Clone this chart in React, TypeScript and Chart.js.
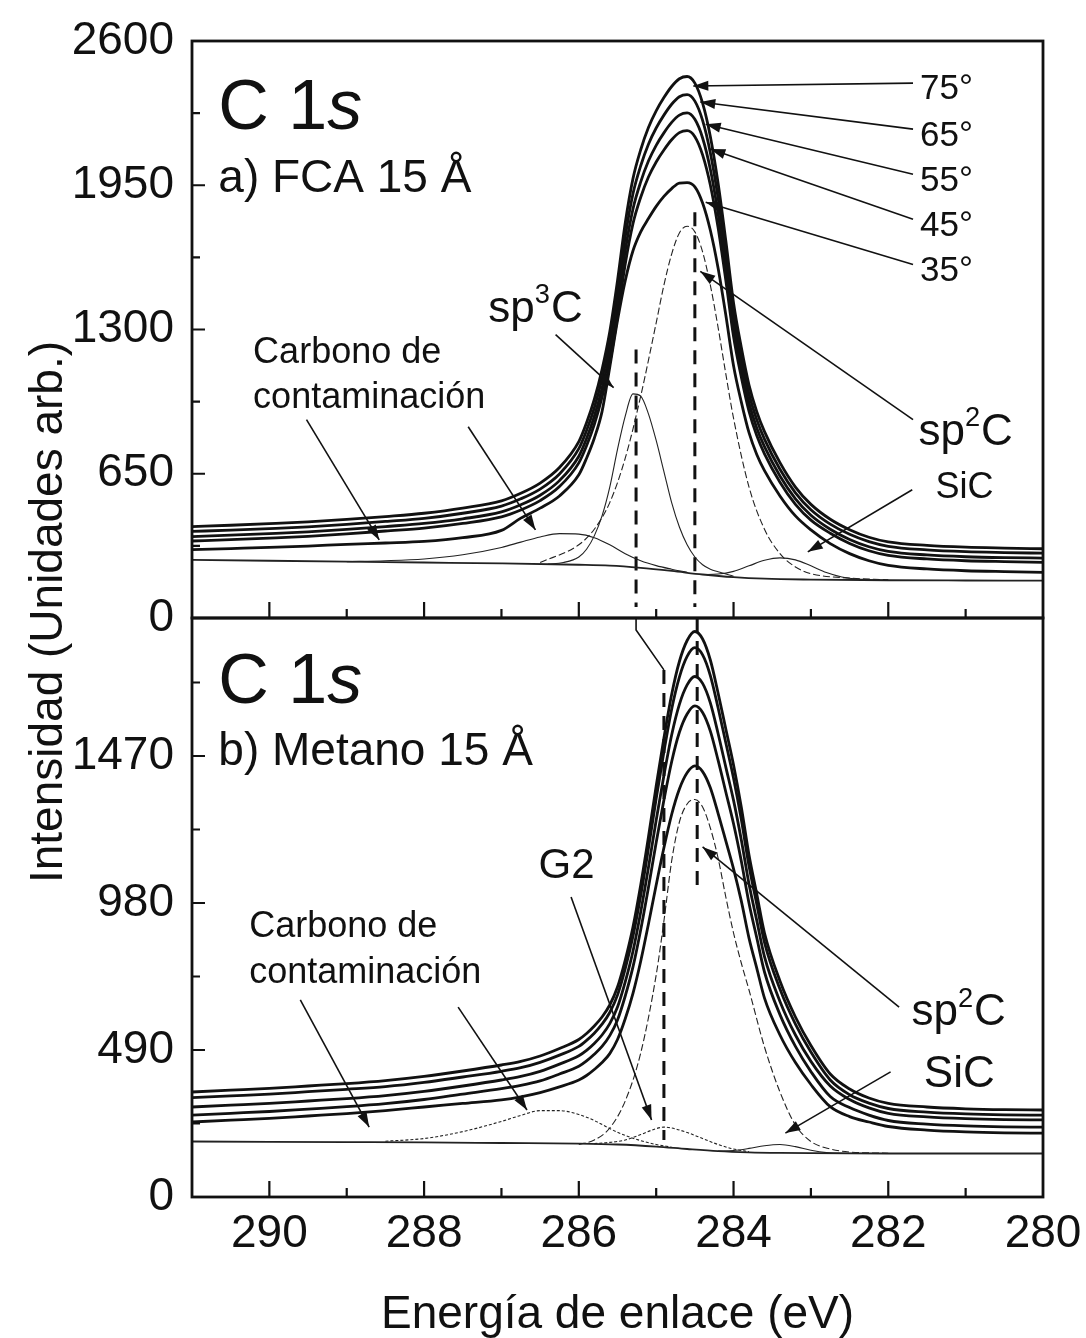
import React, { useEffect, useRef } from "react";
import { Chart, registerables } from "chart.js";

Chart.register(...registerables);

// ---------------- data ----------------
const E_GRID = [291, 290.5, 290, 289.5, 289, 288.5, 288, 287.5, 287, 286.75, 286.5, 286.25, 286, 285.9, 285.8, 285.7, 285.6, 285.5, 285.4, 285.3, 285.2, 285.1, 285, 284.9, 284.8, 284.7, 284.6, 284.5, 284.4, 284.3, 284.2, 284.1, 284, 283.9, 283.8, 283.7, 283.6, 283.4, 283.2, 283, 282.75, 282.5, 282.25, 282, 281.5, 281, 280.5, 280];

// panel a) FCA 15 Å : measured spectra at the five take-off angles
const A75 = [412, 418, 425, 433, 444, 457, 472, 495, 528, 562, 608, 678, 795, 880, 985, 1120, 1290, 1520, 1780, 1980, 2110, 2210, 2285, 2345, 2395, 2430, 2440, 2410, 2320, 2170, 1960, 1700, 1420, 1220, 1050, 930, 840, 700, 590, 512, 445, 398, 364, 343, 327, 319, 315, 312];
const A65 = [390, 396, 403, 411, 422, 435, 449, 472, 504, 537, 581, 649, 763, 845, 947, 1078, 1243, 1466, 1718, 1912, 2038, 2135, 2208, 2266, 2315, 2349, 2358, 2329, 2242, 2096, 1893, 1640, 1369, 1175, 1010, 894, 806, 670, 564, 488, 423, 377, 344, 323, 307, 299, 295, 292];
const A55 = [367, 373, 380, 388, 399, 412, 426, 447, 478, 510, 553, 619, 729, 809, 908, 1035, 1195, 1411, 1655, 1843, 1965, 2059, 2130, 2186, 2233, 2266, 2276, 2247, 2163, 2022, 1824, 1580, 1317, 1129, 969, 856, 772, 640, 537, 463, 400, 354, 321, 300, 284, 276, 272, 270];
const A45 = [347, 353, 360, 368, 379, 392, 405, 426, 456, 487, 529, 592, 699, 776, 872, 995, 1149, 1359, 1595, 1777, 1896, 1987, 2055, 2109, 2155, 2187, 2196, 2169, 2087, 1951, 1759, 1522, 1268, 1086, 931, 822, 740, 612, 512, 441, 382, 336, 303, 282, 266, 258, 254, 251];
const A35 = [308, 313, 318, 324, 332, 338, 345, 362, 395, 450, 495, 550, 645, 720, 810, 930, 1130, 1340, 1520, 1655, 1740, 1800, 1855, 1900, 1935, 1960, 1962, 1943, 1870, 1747, 1577, 1365, 1137, 974, 835, 737, 664, 550, 460, 397, 335, 290, 258, 237, 221, 213, 209, 206];

// panel a) fitted components
const BG_A_E = [291, 290, 289, 288, 287, 286, 285.6, 285.2, 284.8, 284.4, 284, 283.6, 283, 282, 281, 280];
const BG_A = [262, 258, 254, 250, 246, 240, 236, 226, 212, 196, 184, 177, 173, 170, 169, 168];
const CC_A_E = [289, 288.5, 288, 287.5, 287, 286.75, 286.5, 286.25, 286, 285.8, 285.6, 285.4, 285.2, 285, 284.8, 284.6];
const CC_A = [254, 258, 266, 285, 318, 342, 365, 380, 378, 362, 330, 290, 258, 236, 220, 206];
const SP3_A_E = [286.4, 286.2, 286, 285.9, 285.8, 285.7, 285.6, 285.5, 285.4, 285.3, 285.2, 285.1, 285, 284.9, 284.8, 284.7, 284.6, 284.5, 284.4, 284.3, 284.2, 284];
const SP3_A = [243, 250, 275, 310, 370, 460, 590, 760, 910, 1010, 1000, 920, 800, 660, 520, 410, 330, 275, 240, 220, 208, 188];
const SP2_A_E = [286.5, 286, 285.8, 285.6, 285.4, 285.2, 285, 284.9, 284.8, 284.7, 284.6, 284.5, 284.4, 284.3, 284.2, 284.1, 284, 283.8, 283.6, 283.4, 283.2, 283, 282.5, 282];
const SP2_A = [250, 330, 400, 520, 720, 1000, 1330, 1500, 1640, 1735, 1765, 1740, 1650, 1500, 1310, 1100, 900, 590, 400, 290, 230, 200, 180, 172];
const SIC_A_E = [284.4, 284.2, 284, 283.8, 283.6, 283.4, 283.2, 283, 282.8, 282.6, 282.4, 282];
const SIC_A = [196, 198, 210, 235, 260, 271, 262, 235, 205, 185, 175, 170];

// panel b) Metano 15 Å : measured spectra
const B1 = [350, 356, 362, 370, 378, 388, 402, 420, 440, 452, 470, 495, 525, 545, 570, 600, 640, 700, 790, 900, 1040, 1200, 1370, 1530, 1675, 1785, 1855, 1885, 1860, 1790, 1680, 1560, 1440, 1300, 1140, 1010, 880, 720, 600, 505, 410, 360, 330, 312, 300, 294, 291, 290];
const B2 = [331, 337, 343, 351, 359, 368, 382, 400, 419, 431, 449, 473, 502, 522, 546, 576, 615, 673, 761, 869, 1005, 1162, 1328, 1484, 1626, 1733, 1802, 1831, 1807, 1738, 1631, 1514, 1396, 1259, 1103, 976, 849, 693, 576, 483, 390, 341, 313, 295, 283, 277, 274, 273];
const B3 = [300, 306, 312, 320, 328, 338, 352, 370, 390, 402, 419, 443, 471, 489, 512, 540, 578, 633, 717, 819, 950, 1098, 1256, 1405, 1540, 1642, 1707, 1735, 1712, 1647, 1545, 1433, 1322, 1191, 1043, 922, 801, 652, 540, 452, 370, 325, 297, 279, 267, 261, 258, 257];
const B4 = [273, 279, 285, 293, 301, 311, 325, 343, 361, 372, 387, 410, 436, 454, 476, 502, 538, 590, 670, 767, 891, 1032, 1182, 1323, 1451, 1549, 1610, 1637, 1615, 1553, 1456, 1350, 1244, 1120, 979, 864, 750, 608, 502, 418, 335, 298, 273, 255, 243, 237, 234, 233];
const B5 = [250, 256, 262, 270, 278, 288, 300, 312, 324, 334, 348, 367, 390, 405, 425, 448, 478, 525, 594, 679, 786, 910, 1040, 1164, 1275, 1360, 1414, 1437, 1418, 1364, 1279, 1187, 1094, 987, 863, 763, 663, 540, 448, 375, 301, 268, 250, 235, 223, 217, 214, 213];

// panel b) fitted components
const BG_B_E = [291, 290, 289, 288, 287, 286, 285.5, 285, 284.6, 284.2, 283.8, 283.4, 283, 282, 280];
const BG_B = [185, 184, 183, 182, 180, 178, 175, 168, 160, 153, 149, 147, 146, 145, 145];
const CC_B_E = [288.5, 288, 287.5, 287, 286.75, 286.5, 286.25, 286, 285.8, 285.6, 285.4, 285.2, 285, 284.8];
const CC_B = [186, 195, 218, 252, 272, 288, 288, 275, 255, 228, 205, 188, 175, 166];
const G2_B_E = [285.8, 285.6, 285.4, 285.2, 285, 284.9, 284.8, 284.6, 284.4, 284.2, 284, 283.8];
const G2_B = [178, 182, 190, 208, 228, 233, 230, 215, 195, 175, 160, 151];
const SIC_B_E = [284.2, 284, 283.8, 283.6, 283.4, 283.2, 283, 282.8, 282.5];
const SIC_B = [153, 155, 162, 171, 175, 168, 156, 148, 145];
const SP2_B_E = [286, 285.8, 285.6, 285.4, 285.2, 285, 284.9, 284.8, 284.7, 284.6, 284.5, 284.4, 284.3, 284.2, 284.1, 284, 283.9, 283.8, 283.6, 283.4, 283.2, 283, 282.75, 282.5, 282];
const SP2_B = [175, 190, 230, 320, 480, 740, 920, 1120, 1250, 1310, 1325, 1300, 1230, 1130, 1000, 880, 780, 690, 500, 350, 240, 185, 160, 150, 146];

// peak position markers (binding energies) and their extents
const SP3_POS_A = 285.26;
const SP2_POS_A = 284.5;
const G2_POS_B = 284.9;
const SP2_POS_B = 284.47;
const DASH_A_SP3 = [1210, 50];
const DASH_A_SP2 = [1828, 50];
const LINK_B_V = [1930, 1890, 1757];
const DASH_B_G2 = [1757, 190];
const DASH_B_SP2 = [1930, 1013];

// axes
const X_MIN = 280;
const X_MAX = 291;
const X_TICKS = [290, 288, 286, 284, 282, 280];
const X_MINOR = [289, 287, 285, 283, 281];
const Y_MAX_A = 2600;
const Y_TICKS_A = [0, 650, 1300, 1950, 2600];
const Y_MINOR_A = [325, 975, 1625, 2275];
const Y_MAX_B = 1930;
const Y_TICKS_B = [0, 490, 980, 1470];
const Y_MINOR_B = [245, 735, 1225, 1715];

const ANGLES = ["75°", "65°", "55°", "45°", "35°"];
const ANGLE_LABEL_V = [2338, 2126, 1923, 1720, 1517];
const ANGLE_ARROW_FROM_V = [2410, 2203, 2000, 1797, 1593];
const ANGLE_ARROW_TO_E = [284.52, 284.43, 284.36, 284.3, 284.36];
const ANGLE_ARROW_TO_V = [2397, 2325, 2225, 2113, 1873];

const X_TITLE = "Energía de enlace (eV)";
const Y_TITLE = "Intensidad (Unidades arb.)";

// ---------------- helpers ----------------
const FONT = "'Liberation Sans', Arial, Helvetica, sans-serif";
const INK = "#111";

type Seg = { s: string; sup?: boolean; it?: boolean };
type Label = { segs: Seg[]; e: number; v: number; size: number };
type Arrow = { from: [number, number]; to: [number, number] };

const pts = (xs: number[], ys: number[]) => xs.map((x, i) => ({ x, y: ys[i] }));

const LABELS_A: Label[] = [
  { segs: [{ s: "C 1" }, { s: "s", it: true }], e: 290.66, v: 2203, size: 70 },
  { segs: [{ s: "a) FCA 15 Å" }], e: 290.66, v: 1918, size: 46 },
  { segs: [{ s: "sp" }, { s: "3", sup: true }, { s: "C" }], e: 287.17, v: 1336, size: 44 },
  { segs: [{ s: "Carbono de" }], e: 290.21, v: 1151, size: 36 },
  { segs: [{ s: "contaminación" }], e: 290.21, v: 948, size: 36 },
  { segs: [{ s: "sp" }, { s: "2", sup: true }, { s: "C" }], e: 281.61, v: 781, size: 44 },
  { segs: [{ s: "SiC" }], e: 281.39, v: 542, size: 36 },
  ...ANGLES.map((a, i) => ({ segs: [{ s: a }], e: 281.59, v: ANGLE_LABEL_V[i], size: 35 })),
];
const ARROWS_A: Arrow[] = [
  { from: [286.3, 1277], to: [285.55, 1038] },
  { from: [289.52, 894], to: [288.58, 352] },
  { from: [287.43, 862], to: [286.56, 397] },
  { from: [281.68, 894], to: [284.43, 1562] },
  { from: [281.69, 578], to: [283.04, 298] },
  ...ANGLES.map((_, i) => ({ from: [281.68, ANGLE_ARROW_FROM_V[i]] as [number, number], to: [ANGLE_ARROW_TO_E[i], ANGLE_ARROW_TO_V[i]] as [number, number] })),
];
const LABELS_B: Label[] = [
  { segs: [{ s: "C 1" }, { s: "s", it: true }], e: 290.66, v: 1647, size: 70 },
  { segs: [{ s: "b) Metano 15 Å" }], e: 290.66, v: 1440, size: 46 },
  { segs: [{ s: "G2" }], e: 286.52, v: 1063, size: 42 },
  { segs: [{ s: "Carbono de" }], e: 290.26, v: 867, size: 36 },
  { segs: [{ s: "contaminación" }], e: 290.26, v: 713, size: 36 },
  { segs: [{ s: "sp" }, { s: "2", sup: true }, { s: "C" }], e: 281.7, v: 573, size: 44 },
  { segs: [{ s: "SiC" }], e: 281.54, v: 367, size: 44 },
];
const ARROWS_B: Arrow[] = [
  { from: [286.1, 1000], to: [285.06, 257] },
  { from: [289.6, 657], to: [288.71, 233] },
  { from: [287.56, 633], to: [286.67, 290] },
  { from: [281.86, 633], to: [284.4, 1167] },
  { from: [281.97, 417], to: [283.33, 213] },
];

function drawText(ctx: CanvasRenderingContext2D, segs: Seg[], x: number, y: number, size: number) {
  let cx = x;
  for (const sg of segs) {
    const sz = sg.sup ? size * 0.62 : size;
    ctx.font = `${sg.it ? "italic " : ""}${sz}px ${FONT}`;
    const dy = sg.sup ? -size * 0.42 : 0;
    ctx.fillText(sg.s, cx, y + dy);
    cx += ctx.measureText(sg.s).width + (sg.sup ? 1 : 0);
  }
}

function drawArrow(ctx: CanvasRenderingContext2D, x1: number, y1: number, x2: number, y2: number) {
  ctx.beginPath();
  ctx.moveTo(x1, y1);
  ctx.lineTo(x2, y2);
  ctx.stroke();
  const ang = Math.atan2(y2 - y1, x2 - x1);
  const L = 15, W = 5;
  const c = Math.cos(ang), s = Math.sin(ang);
  ctx.beginPath();
  ctx.moveTo(x2, y2);
  ctx.lineTo(x2 - L * c + W * s, y2 - L * s - W * c);
  ctx.lineTo(x2 - L * c - W * s, y2 - L * s + W * c);
  ctx.closePath();
  ctx.fill();
}

const decoPlugin = {
  id: "deco",
  afterDatasetsDraw(chart: any, _args: any, opts: any) {
    const { ctx, chartArea: ca } = chart;
    const xs = chart.scales.x, ys = chart.scales.y;
    ctx.save();
    ctx.strokeStyle = INK;
    ctx.fillStyle = INK;
    // frame
    ctx.lineWidth = 2.8;
    ctx.strokeRect(ca.left, ca.top, ca.right - ca.left, ca.bottom - ca.top);
    // inward tick marks
    ctx.lineWidth = 2.2;
    ctx.beginPath();
    const inX = (x: number) => x > ca.left + 3 && x < ca.right - 3;
    const inY = (y: number) => y > ca.top + 3 && y < ca.bottom - 3;
    for (const v of X_TICKS) { const x = xs.getPixelForValue(v); if (inX(x)) { ctx.moveTo(x, ca.bottom); ctx.lineTo(x, ca.bottom - 16); } }
    for (const v of X_MINOR) { const x = xs.getPixelForValue(v); if (inX(x)) { ctx.moveTo(x, ca.bottom); ctx.lineTo(x, ca.bottom - 9); } }
    for (const v of opts.yTicks) { const y = ys.getPixelForValue(v); if (inY(y)) { ctx.moveTo(ca.left, y); ctx.lineTo(ca.left + 13, y); } }
    for (const v of opts.yMinor) { const y = ys.getPixelForValue(v); if (inY(y)) { ctx.moveTo(ca.left, y); ctx.lineTo(ca.left + 8, y); } }
    ctx.stroke();
    // annotations
    ctx.textAlign = "left";
    ctx.textBaseline = "alphabetic";
    for (const lb of opts.labels as Label[]) {
      drawText(ctx, lb.segs, xs.getPixelForValue(lb.e), ys.getPixelForValue(lb.v), lb.size);
    }
    ctx.lineWidth = 1.6;
    for (const a of opts.arrows as Arrow[]) {
      drawArrow(ctx, xs.getPixelForValue(a.from[0]), ys.getPixelForValue(a.from[1]), xs.getPixelForValue(a.to[0]), ys.getPixelForValue(a.to[1]));
    }
    // shared axis titles
    if (opts.titles) {
      ctx.font = `46px ${FONT}`;
      ctx.textAlign = "center";
      ctx.fillText(X_TITLE, (ca.left + ca.right) / 2, 1328);
      ctx.save();
      ctx.translate(62, 612);
      ctx.rotate(-Math.PI / 2);
      ctx.fillText(Y_TITLE, 0, 0);
      ctx.restore();
    }
    ctx.restore();
  },
};

const spectrum = (ys: number[]) => ({
  data: pts(E_GRID, ys),
  borderColor: INK,
  borderWidth: 2.8,
  pointRadius: 0,
  cubicInterpolationMode: "monotone" as const,
  fill: false,
});
const component = (xs: number[], ys: number[], width = 1.1, dash: number[] = []) => ({
  data: pts(xs, ys),
  borderColor: "#222",
  borderWidth: width,
  borderDash: dash,
  pointRadius: 0,
  cubicInterpolationMode: "monotone" as const,
  fill: false,
});
const straight = (xs: number[], ys: number[], width: number, dash: number[]) => ({
  data: pts(xs, ys),
  borderColor: INK,
  borderWidth: width,
  borderDash: dash,
  pointRadius: 0,
  tension: 0,
  fill: false,
});

function makeConfig(panel: "a" | "b"): any {
  const isA = panel === "a";
  const yTicks = isA ? Y_TICKS_A : Y_TICKS_B;
  const datasets = isA
    ? [
        component(BG_A_E, BG_A, 1.8),
        component(CC_A_E, CC_A, 1.1),
        component(SP3_A_E, SP3_A, 1.1),
        component(SP2_A_E, SP2_A, 1.1, [7, 3]),
        component(SIC_A_E, SIC_A, 1.1),
        straight([SP3_POS_A, SP3_POS_A], DASH_A_SP3, 3, [14, 9]),
        straight([SP2_POS_A, SP2_POS_A], DASH_A_SP2, 3, [14, 9]),
        spectrum(A35),
        spectrum(A45),
        spectrum(A55),
        spectrum(A65),
        spectrum(A75),
      ]
    : [
        component(BG_B_E, BG_B, 1.8),
        component(CC_B_E, CC_B, 1.1, [3, 2]),
        component(G2_B_E, G2_B, 1.1, [3, 2]),
        component(SIC_B_E, SIC_B, 1.1),
        component(SP2_B_E, SP2_B, 1.1, [7, 3]),
        straight([SP3_POS_A, SP3_POS_A, G2_POS_B], LINK_B_V, 1.6, []),
        straight([G2_POS_B, G2_POS_B], DASH_B_G2, 3, [14, 9]),
        straight([SP2_POS_B, SP2_POS_B], DASH_B_SP2, 3, [14, 9]),
        spectrum(B5),
        spectrum(B4),
        spectrum(B3),
        spectrum(B2),
        spectrum(B1),
      ];
  return {
    type: "line",
    data: { datasets },
    plugins: [decoPlugin],
    options: {
      animation: false,
      responsive: false,
      maintainAspectRatio: false,
      events: [],
      layout: { padding: isA ? { top: 41, right: 43, left: 0, bottom: 710 } : { top: 618, right: 43, left: 0, bottom: 0 } },
      plugins: {
        legend: { display: false },
        tooltip: { enabled: false },
        deco: {
          yTicks,
          yMinor: isA ? Y_MINOR_A : Y_MINOR_B,
          labels: isA ? LABELS_A : LABELS_B,
          arrows: isA ? ARROWS_A : ARROWS_B,
          titles: !isA,
        },
      },
      scales: {
        x: {
          type: "linear",
          min: X_MIN,
          max: X_MAX,
          reverse: true,
          grid: { display: false, drawTicks: false },
          border: { display: false },
          ticks: {
            display: !isA,
            font: { family: FONT, size: 46 },
            color: INK,
            padding: 10,
            maxRotation: 0,
            autoSkip: false,
            callback: (v: any) => String(v),
          },
          afterBuildTicks: (s: any) => { s.ticks = X_TICKS.map((v) => ({ value: v })); },
          afterFit: (s: any) => {
            s.height = isA ? 10 : 141;
            s.paddingLeft = 0;
            s.paddingRight = 0;
          },
        },
        y: {
          type: "linear",
          min: 0,
          max: isA ? Y_MAX_A : Y_MAX_B,
          grid: { display: false, drawTicks: false },
          border: { display: false },
          ticks: {
            font: { family: FONT, size: 46 },
            color: INK,
            padding: 18,
            autoSkip: false,
            callback: (v: any) => String(v),
          },
          afterBuildTicks: (s: any) => { s.ticks = yTicks.map((v) => ({ value: v })); },
          afterFit: (s: any) => {
            s.width = 192;
            s.paddingTop = 0;
            s.paddingBottom = 0;
          },
        },
      },
    },
  };
}

export default function App() {
  const topRef = useRef<HTMLCanvasElement>(null);
  const botRef = useRef<HTMLCanvasElement>(null);
  useEffect(() => {
    const c1 = new Chart(topRef.current as HTMLCanvasElement, makeConfig("a"));
    const c2 = new Chart(botRef.current as HTMLCanvasElement, makeConfig("b"));
    return () => {
      c1.destroy();
      c2.destroy();
    };
  }, []);
  return (
    <div style={{ position: "absolute", left: 0, top: 0, width: 1086, height: 1338, background: "#fff", overflow: "hidden" }}>
      <canvas ref={topRef} width={1086} height={1338} style={{ position: "absolute", left: 0, top: 0, width: 1086, height: 1338 }} />
      <canvas ref={botRef} width={1086} height={1338} style={{ position: "absolute", left: 0, top: 0, width: 1086, height: 1338 }} />
    </div>
  );
}
